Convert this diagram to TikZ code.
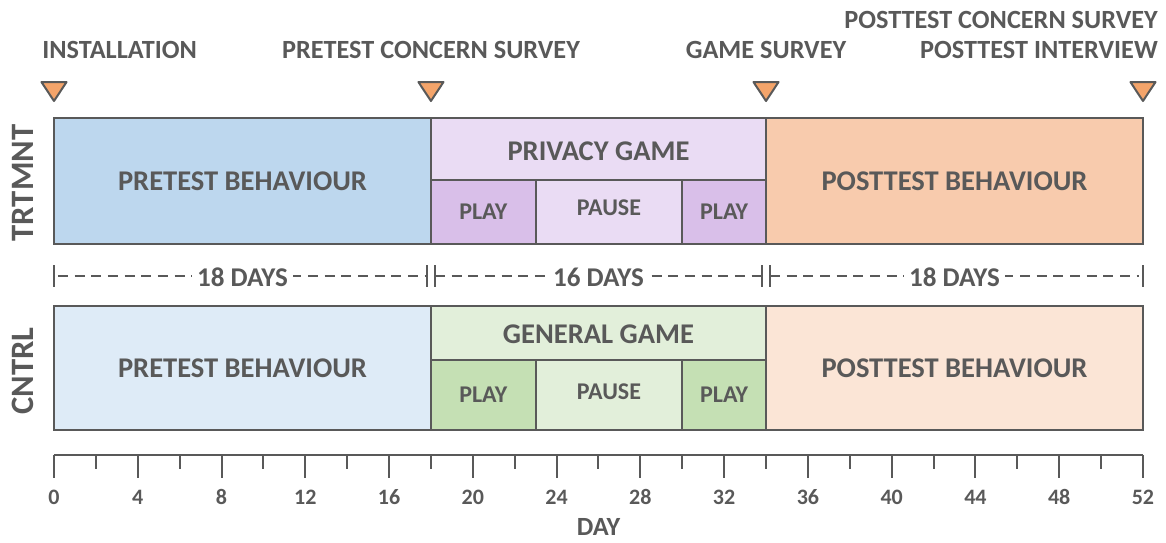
\documentclass[tikz,border=0pt]{standalone}
\usepackage{fontspec}
\setmainfont{Carlito}
\definecolor{ink}{HTML}{595959}
\definecolor{preT}{HTML}{BDD7EE}
\definecolor{preC}{HTML}{DEEBF7}
\definecolor{postT}{HTML}{F8CBAD}
\definecolor{postC}{HTML}{FBE5D6}
\definecolor{privL}{HTML}{EADCF4}
\definecolor{privD}{HTML}{D9BFE9}
\definecolor{genL}{HTML}{E2EFDA}
\definecolor{genD}{HTML}{C5E0B4}
\definecolor{evtfill}{HTML}{F4A46A}
\tikzset{
  phase/.style={draw=ink, line width=1.5pt},
  txt/.style={text=ink, font=\bfseries\fontsize{21.4}{24}\selectfont, inner sep=0pt},
  small/.style={text=ink, font=\bfseries\fontsize{18}{20}\selectfont, inner sep=0pt},
  evt/.style={text=ink, font=\bfseries\fontsize{19.7}{22}\selectfont, inner sep=0pt},
  tri/.style={draw=ink, fill=evtfill, line width=1.5pt, line join=round},
  span/.style={draw=ink, line width=1.5pt, dash pattern=on 7.5pt off 5pt},
}
\begin{document}
\begin{tikzpicture}[x=15.705pt, y=-0.75pt]
\useasboundingbox (-2.579,0) rectangle (53.1,542);
% event markers
\foreach \d in {0,18,34,52}
  \draw[tri] (\d-0.6,82) -- (\d+0.6,82) -- (\d,101) -- cycle;
\node[evt, anchor=west] (install) at (-0.57,50) {INSTALLATION};
\node[evt] (presurvey) at (18,50) {PRETEST CONCERN SURVEY};
\node[evt] (gamesurvey) at (34,50) {GAME SURVEY};
\node[evt, anchor=east] (postsurvey) at (52.72,20) {POSTTEST CONCERN SURVEY};
\node[evt, anchor=east] (postinterview) at (52.72,50) {POSTTEST INTERVIEW};

% treatment group
\draw[phase, fill=preT] (0,118) rectangle (18,244) node[midway, txt] (tpre) {PRETEST BEHAVIOUR};
\draw[phase, fill=privL] (18,118) rectangle (34,180);
\node[txt] (tgame) at (26,151) {PRIVACY GAME};
\draw[phase, fill=privD] (18,180) rectangle (23,244) node[midway, small] (tplay1) {PLAY};
\draw[phase, fill=privL] (23,180) rectangle (30,244);
\node[small] (tpause) at (26.5,208) {PAUSE};
\draw[phase, fill=privD] (30,180) rectangle (34,244) node[midway, small] (tplay2) {PLAY};
\draw[phase, fill=postT] (34,118) rectangle (52,244) node[midway, txt] (tpost) {POSTTEST BEHAVIOUR};
\node[text=ink, font=\bfseries\fontsize{24.5}{28}\selectfont, inner sep=0pt, rotate=90] (trt) at (-1.47,183) {TRTMNT};

% durations
\draw[span] (0.19,276) -- (17.81,276);
\draw[span] (18.19,276) -- (33.81,276);
\draw[span] (34.19,276) -- (51.81,276);
\foreach \a/\b in {0/17.81, 18.19/33.81, 34.19/52}
  \draw[ink, line width=1.5pt] (\a,265) -- (\a,287) (\b,265) -- (\b,287);
\foreach \d/\t in {9/18 DAYS, 26/16 DAYS, 43/18 DAYS}
  \node[evt, font=\bfseries\fontsize{20.3}{22}\selectfont, fill=white, inner xsep=4pt, inner ysep=2pt] at (\d,277) {\t};

% control group
\draw[phase, fill=preC] (0,306) rectangle (18,430) node[midway, txt] (cpre) {PRETEST BEHAVIOUR};
\draw[phase, fill=genL] (18,306) rectangle (34,360);
\node[txt] (cgame) at (26,334) {GENERAL GAME};
\draw[phase, fill=genD] (18,360) rectangle (23,430) node[midway, small] (cplay1) {PLAY};
\draw[phase, fill=genL] (23,360) rectangle (30,430);
\node[small] (cpause) at (26.5,392) {PAUSE};
\draw[phase, fill=genD] (30,360) rectangle (34,430) node[midway, small] (cplay2) {PLAY};
\draw[phase, fill=postC] (34,306) rectangle (52,430) node[midway, txt] (cpost) {POSTTEST BEHAVIOUR};
\node[text=ink, font=\bfseries\fontsize{24.5}{28}\selectfont, inner sep=0pt, rotate=90] (ctl) at (-1.47,371) {CNTRL};

% day axis
\draw[ink, line width=1.5pt] (0,455) -- (52,455);
\foreach \d in {2,6,...,50}
  \draw[ink, line width=1.5pt] (\d,455) -- (\d,469);
\foreach \d in {0,4,...,52} {
  \draw[ink, line width=1.5pt] (\d,455) -- (\d,478);
  \node[text=ink, font=\bfseries\fontsize{16.5}{19}\selectfont, inner sep=0pt] at (\d,497) {\d};
}
\node[evt] (daylbl) at (26,527) {DAY};
\end{tikzpicture}
\end{document}
